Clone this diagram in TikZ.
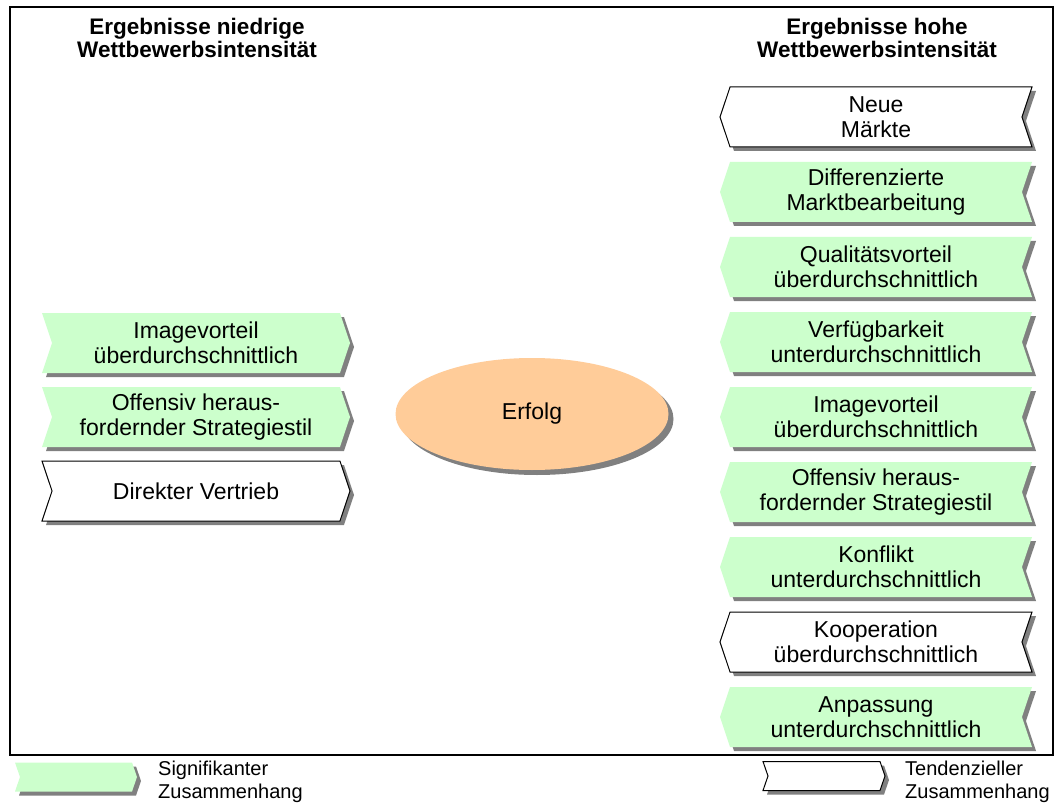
\documentclass[tikz,border=0pt]{standalone}
\usepackage{fontspec}
\setmainfont{Liberation Sans}
\usetikzlibrary{shapes.symbols,shapes.geometric,shadows}
\definecolor{sigGreen}{HTML}{CCFFCC}
\definecolor{erfolgOrange}{HTML}{FFCC99}
\definecolor{shadowGray}{HTML}{808080}
\begin{document}
\begin{tikzpicture}[x=1pt,y=-1pt,
  chev/.style={shape=signal, inner sep=0pt, minimum height=60pt, align=center,
    font=\fontsize{23}{25}\selectfont, signal pointer angle=143,
    drop shadow={shadow xshift=4pt, shadow yshift=-4pt, fill=shadowGray, opacity=1}},
  lowbox/.style={chev, signal from=west, signal to=east, minimum width=308pt},
  highbox/.style={chev, signal from=east, signal to=west, minimum width=312pt},
  signif/.style={fill=sigGreen, draw=none},
  tendenz/.style={fill=white, draw=black, line width=1pt},
  keybox/.style={shape=signal, inner sep=0pt, minimum height=29pt, minimum width=122pt,
    signal from=west, signal to=east, signal pointer angle=142,
    drop shadow={shadow xshift=4pt, shadow yshift=-4pt, fill=shadowGray, opacity=1}},
  keytext/.style={anchor=west, align=left, inner sep=0pt, font=\fontsize{20}{23}\selectfont},
  head/.style={align=center, inner sep=0pt, font=\bfseries\fontsize{22.5}{23}\selectfont},
]
\useasboundingbox (0,0) rectangle (1058,805);
\fill[white] (0,0) rectangle (1058,805);

% outer frame
\draw[line width=1.2pt] (10,7) rectangle (1053,755);

% column headings
\node[head] (hlow) at (197,38) {Ergebnisse niedrige\\Wettbewerbsintensität};
\node[head] (hhigh) at (877,38) {Ergebnisse hohe\\Wettbewerbsintensität};

% low competition intensity
\node[lowbox, signif] (l1) at (196,343) {Imagevorteil\\überdurchschnittlich};
\node[lowbox, signif] (l2) at (196,417) {Offensiv heraus-\\fordernder Strategiestil};
\node[lowbox, tendenz] (l3) at (196,491) {Direkter Vertrieb};

% high competition intensity
\node[highbox, tendenz] (r1) at (876,117) {Neue\\Märkte};
\node[highbox, signif] (r2) at (876,192) {Differenzierte\\Marktbearbeitung};
\node[highbox, signif] (r3) at (876,267) {Qualitätsvorteil\\überdurchschnittlich};
\node[highbox, signif] (r4) at (876,342) {Verfügbarkeit\\unterdurchschnittlich};
\node[highbox, signif] (r5) at (876,417) {Imagevorteil\\überdurchschnittlich};
\node[highbox, signif] (r6) at (876,492) {Offensiv heraus-\\fordernder Strategiestil};
\node[highbox, signif] (r7) at (876,567) {Konflikt\\unterdurchschnittlich};
\node[highbox, tendenz] (r8) at (876,642) {Kooperation\\überdurchschnittlich};
\node[highbox, signif] (r9) at (876,717) {Anpassung\\unterdurchschnittlich};

% centre
\node[ellipse, fill=erfolgOrange, minimum width=273pt, minimum height=112pt, inner sep=0pt,
  font=\fontsize{23}{25}\selectfont,
  drop shadow={shadow xshift=5pt, shadow yshift=-5pt, fill=shadowGray, opacity=1}]
  (erfolg) at (532,414) {Erfolg};

% legend
\node[keybox, signif] (k1) at (76,777) {};
\node[keytext] (k1t) at (158,782) {Signifikanter\\Zusammenhang};
\node[keybox, tendenz] (k2) at (824,776) {};
\node[keytext] (k2t) at (905,782) {Tendenzieller\\Zusammenhang};
\end{tikzpicture}
\end{document}
